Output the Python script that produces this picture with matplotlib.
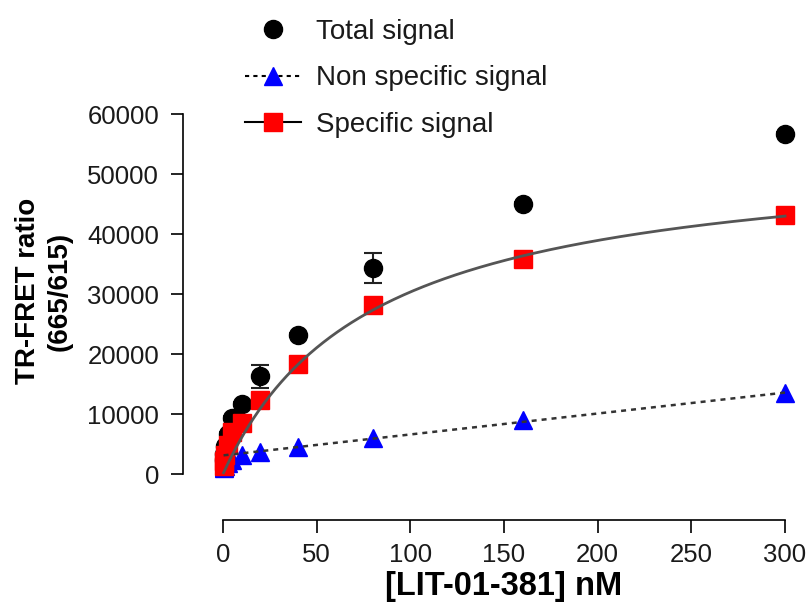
# saturation binding plot: total / non specific / specific TR-FRET signal
import numpy as np
import matplotlib.pyplot as plt
from matplotlib.lines import Line2D

plt.rcParams['font.family'] = ['Liberation Sans', 'DejaVu Sans']

conc = [0.3125, 0.625, 1.25, 2.5, 5, 10, 20, 40, 80, 160, 300]  # nM
total = [2300, 3300, 4600, 6700, 9300, 11700, 16300, 23200, 34300, 45000, 56700]
total_err = [200, 200, 200, 300, 300, 300, 1900, 300, 2500, 300, 300]
nonspec = [1000, 1200, 1400, 1800, 2300, 3200, 3700, 4500, 6000, 9000, 13500]
specific = [1300, 2100, 3200, 4900, 7000, 8500, 12400, 18400, 28100, 35900, 43100]

# fitted parameters as shown by the curves
kd, bmax = 79.0, 54300.0          # one site specific binding
ns_slope, ns_icpt = 34.9, 3100.0  # linear non specific

fig = plt.figure(figsize=(8.11, 6.05), dpi=100)
ax = fig.add_axes([223 / 811, 1 - 474 / 605, (785 - 223) / 811, (474 - 114) / 605])

xf = np.linspace(0.3, 300, 400)
ax.errorbar(conc, total, yerr=total_err, fmt='o', color='black', ms=13,
            ecolor='#222222', elinewidth=1.5, capsize=6.5, capthick=1.5,
            clip_on=False, zorder=3)
ax.plot(conc, nonspec, '^', color='blue', ms=13, clip_on=False, zorder=4)
ax.plot(conc, specific, 's', color='red', ms=13, clip_on=False, zorder=5)
ax.plot(xf, ns_slope * xf + ns_icpt, linestyle=(0, (2, 2)), color='#333333',
        lw=1.8, clip_on=False, zorder=6)
ax.plot(xf, bmax * xf / (kd + xf), '-', color='#555555', lw=2,
        clip_on=False, zorder=6)

ax.set_xlim(0, 300)
ax.set_ylim(0, 60000)
ax.set_xticks(range(0, 301, 50))
ax.set_yticks(range(0, 60001, 10000))
for s in ['top', 'right']:
    ax.spines[s].set_visible(False)
ax.spines['left'].set_position(('outward', 29))
ax.spines['bottom'].set_position(('outward', 33))
ax.spines['left'].set_linewidth(1.2)
ax.spines['bottom'].set_linewidth(1.2)
ax.tick_params(direction='out', length=9, width=1.2, labelsize=18.5,
               labelcolor='#1a1a1a', pad=8)

fig.text(44 / 811, 1 - 291 / 605, 'TR-FRET ratio\n(665/615)', rotation=90,
         ha='center', va='center', fontsize=20, fontweight='bold',
         multialignment='center', linespacing=1.25)
fig.text(504 / 811, 1 - 586 / 605, '[LIT-01-381] nM', ha='center', va='center',
         fontsize=23.5, fontweight='bold')

handles = [
    Line2D([], [], marker='o', color='black', linestyle='none', ms=13),
    Line2D([], [], marker='^', color='black', markerfacecolor='blue',
           markeredgecolor='blue', ms=13, linestyle=(0, (2, 2)), lw=1.5),
    Line2D([], [], marker='s', color='black', markerfacecolor='red',
           markeredgecolor='red', ms=13, lw=1.5),
]
fig.legend(handles, ['Total signal', 'Non specific signal', 'Specific signal'],
           loc='upper left', bbox_to_anchor=(220 / 811, 1 + 6 / 605),
           frameon=False, fontsize=20, handlelength=2.0, handletextpad=0.55,
           labelspacing=0.73, labelcolor='#1a1a1a')

plt.savefig('out.png', dpi=100)
